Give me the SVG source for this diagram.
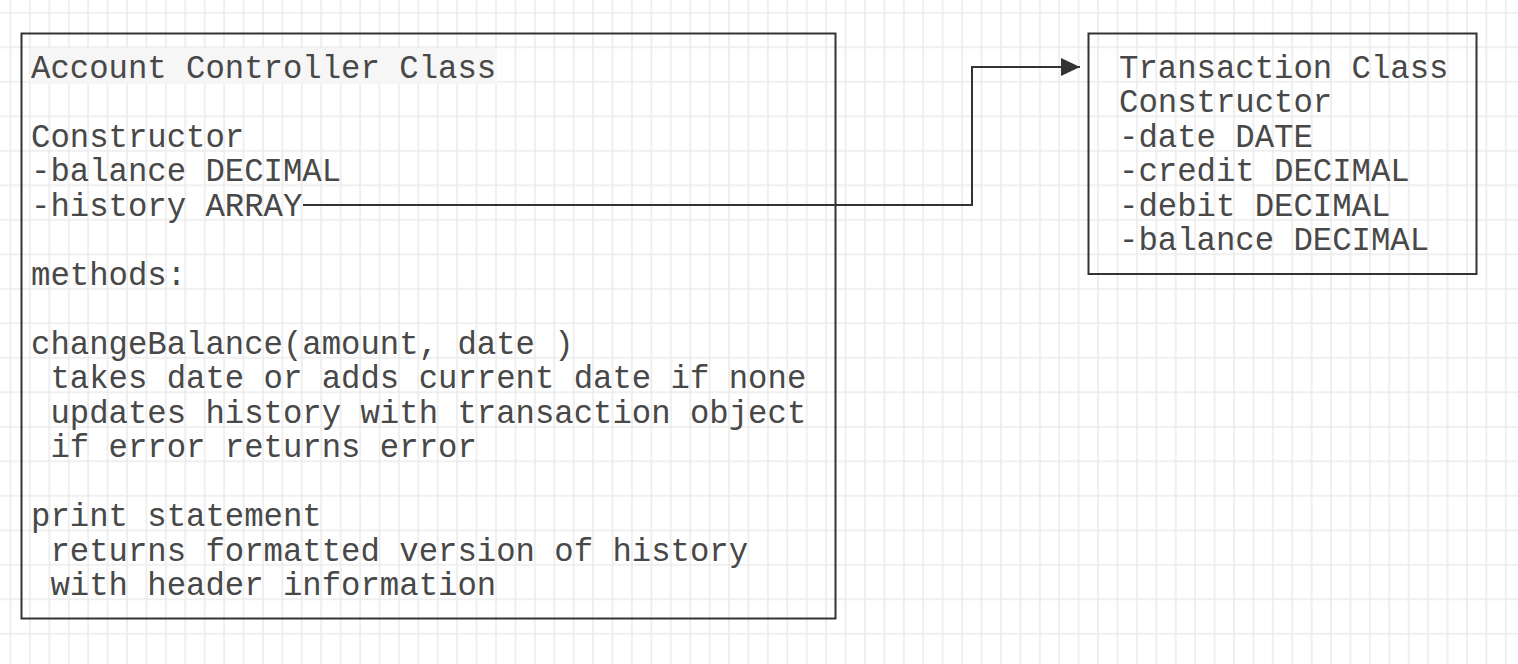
<svg xmlns="http://www.w3.org/2000/svg" width="1518" height="664" viewBox="0 0 1518 664">
  <defs>
    <pattern id="grid" patternUnits="userSpaceOnUse" x="9.5" y="11.8" width="19.42" height="34.5">
      <path d="M1 0 V34.5 M0 1 H19.42" stroke="#ebebeb" stroke-width="1.6" fill="none"/>
    </pattern>
    <marker id="arrow" markerUnits="userSpaceOnUse" markerWidth="22" markerHeight="20" refX="19" refY="9" orient="auto">
      <path d="M0 0 L19 9 L0 18 Z" fill="#333"/>
    </marker>
  </defs>
  <style>
    .box { fill: none; stroke: #333; stroke-width: 2; }
    .t { font-family: "Liberation Mono", "Courier New", monospace; font-size: 32.3px; fill: #484848; }
    .edge { fill: none; stroke: #333; stroke-width: 2; }
  </style>
  <rect x="0" y="0" width="1518" height="664" fill="#ffffff"/>
  <rect x="0" y="0" width="1518" height="664" fill="url(#grid)"/>

  <g id="account-controller">
    <rect class="box" x="21.5" y="33.5" width="814" height="585"/>
    <rect x="30" y="48" width="467" height="36" fill="#f6f6f6"/>
    <text class="t" x="31" y="77.5">Account Controller Class</text>
    <text class="t" x="31" y="146.5">Constructor</text>
    <text class="t" x="31" y="181">-balance DECIMAL</text>
    <text class="t" x="31" y="215.5">-history ARRAY</text>
    <text class="t" x="31" y="284.5">methods:</text>
    <text class="t" x="31" y="353.5">changeBalance(amount, date )</text>
    <text class="t" x="50.4" y="388">takes date or adds current date if none</text>
    <text class="t" x="50.4" y="422.5">updates history with transaction object</text>
    <text class="t" x="50.4" y="457">if error returns error</text>
    <text class="t" x="31" y="526">print statement</text>
    <text class="t" x="50.4" y="560.5">returns formatted version of history</text>
    <text class="t" x="50.4" y="595">with header information</text>
  </g>

  <g id="transaction">
    <rect class="box" x="1088.5" y="33.5" width="388" height="240.5"/>
    <text class="t" x="1119" y="77.5">Transaction Class</text>
    <text class="t" x="1119" y="112">Constructor</text>
    <text class="t" x="1119" y="146.5">-date DATE</text>
    <text class="t" x="1119" y="181">-credit DECIMAL</text>
    <text class="t" x="1119" y="215.5">-debit DECIMAL</text>
    <text class="t" x="1119" y="250">-balance DECIMAL</text>
  </g>

  <g id="connectors">
    <path class="edge" d="M303 205 H972 V67 H1080" marker-end="url(#arrow)"/>
  </g>
</svg>
